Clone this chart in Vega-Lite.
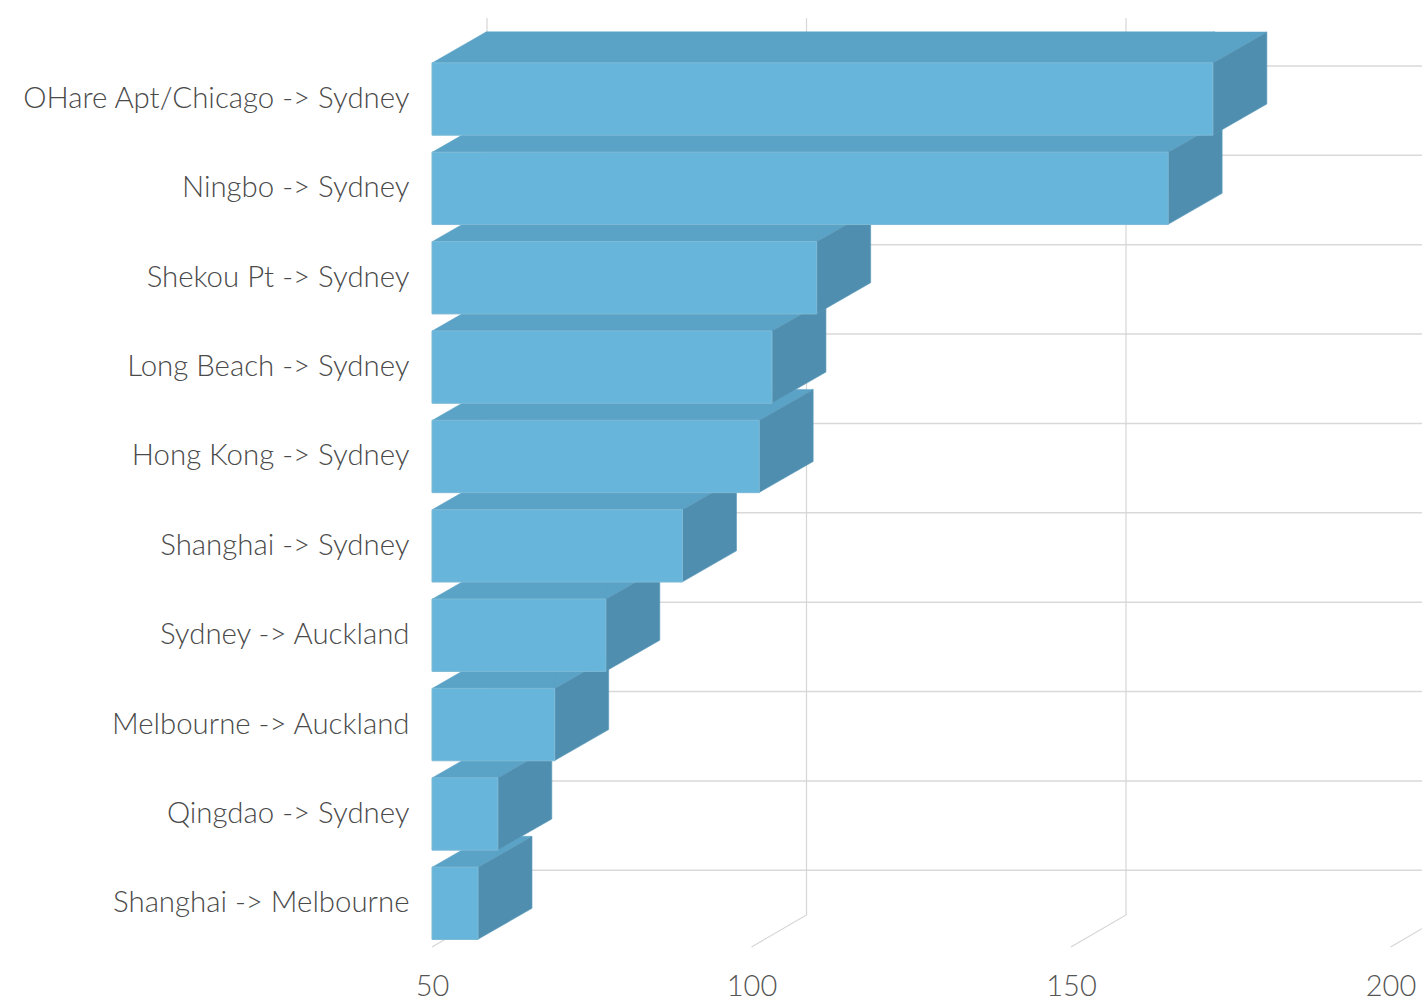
{"$schema":"https://vega.github.io/schema/vega-lite/v6.json","width":1422,"height":997,"padding":0,"autosize":{"type":"none"},"background":"#ffffff","config":{"view":{"stroke":null},"font":"Lato"},
"datasets":{"routes":[
{"route":"Shanghai -> Melbourne","value":57.2,"base":50},
{"route":"Qingdao -> Sydney","value":60.3,"base":50},
{"route":"Melbourne -> Auckland","value":69.2,"base":50},
{"route":"Sydney -> Auckland","value":77.2,"base":50},
{"route":"Shanghai -> Sydney","value":89.2,"base":50},
{"route":"Hong Kong -> Sydney","value":101.2,"base":50},
{"route":"Long Beach -> Sydney","value":103.2,"base":50},
{"route":"Shekou Pt -> Sydney","value":110.2,"base":50},
{"route":"Ningbo -> Sydney","value":165.2,"base":50},
{"route":"OHare Apt/Chicago -> Sydney","value":172.2,"base":50}],
"ticks":[{"tick":50},{"tick":100},{"tick":150},{"tick":200}]},
"layer":[
{"data":{"name":"routes"},"mark":{"type":"point","shape":"M55,-33 L1000,-33","size":4,"filled":false,"stroke":"#d9d9d9","strokeWidth":1.5,"opacity":1},"encoding":{"x":{"field":"base","type":"quantitative","scale":{"domain":[-17.606,204.93],"nice":false,"zero":false},"axis":{"orient":"bottom","offset":-25,"values":[50,100,150,200],"title":null,"domain":false,"ticks":false,"grid":false,"labelPadding":0,"labelBaseline":"top","labelFont":"Lato","labelFontWeight":300,"labelFontSize":29,"labelColor":"#555555","labelOverlap":false,"labelFlush":false}},"y":{"field":"route","type":"nominal","scale":{"domain":["OHare Apt/Chicago -> Sydney","Ningbo -> Sydney","Shekou Pt -> Sydney","Long Beach -> Sydney","Hong Kong -> Sydney","Shanghai -> Sydney","Sydney -> Auckland","Melbourne -> Auckland","Qingdao -> Sydney","Shanghai -> Melbourne"],"range":[54.3,948],"paddingInner":0.19,"paddingOuter":0.095},"axis":{"orient":"left","offset":-409,"title":null,"domain":false,"ticks":false,"grid":false,"labelPadding":0,"labelOffset":0,"labelFont":"Lato","labelFontWeight":300,"labelFontSize":29.4,"labelColor":"#4a4a4a","labelLimit":500}}}},
{"data":{"name":"ticks"},"mark":{"type":"point","shape":"M0,448.5 L55,416.5 L55,-480.5","size":4,"filled":false,"stroke":"#d6d6d6","strokeWidth":1.2,"opacity":1},"encoding":{"x":{"field":"tick","type":"quantitative"}}},
{"data":{"name":"routes"},"transform":[{"filter":"datum.value >= 58"}],"mark":{"type":"bar","height":31,"yOffset":-51.5,"xOffset":54,"x2Offset":2,"fill":"#5ba3c6","stroke":"#5ba3c6","strokeWidth":1},"encoding":{"x":{"field":"base","type":"quantitative"},"x2":{"field":"value"},"y":{"field":"route","type":"nominal"}}},
{"data":{"name":"routes"},"transform":[{"filter":"datum.value >= 58"}],"mark":{"type":"point","shape":"M0,-36 L54,-67 L54,-36 Z","size":4,"filled":true,"fill":"#5ba3c6","stroke":"#5ba3c6","strokeWidth":0.5,"opacity":1},"encoding":{"x":{"field":"base","type":"quantitative"},"y":{"field":"route","type":"nominal"}}},
{"data":{"name":"routes"},"transform":[{"filter":"datum.value >= 58"}],"mark":{"type":"point","shape":"M0,-36 L0,-67 L54,-67 Z","size":4,"filled":true,"fill":"#5ba3c6","stroke":"#5ba3c6","strokeWidth":0.5,"opacity":1},"encoding":{"x":{"field":"value","type":"quantitative"},"y":{"field":"route","type":"nominal"}}},
{"data":{"name":"routes"},"transform":[{"filter":"datum.value < 58"}],"mark":{"type":"point","shape":"M0,-36 L54,-67 L100,-67 L46,-36 Z","size":4,"filled":true,"fill":"#5ba3c6","stroke":"#5ba3c6","strokeWidth":0.5,"opacity":1},"encoding":{"x":{"field":"base","type":"quantitative"},"y":{"field":"route","type":"nominal"}}},
{"data":{"name":"routes"},"mark":{"type":"point","shape":"M0,-36 L54,-67 L54,5 L0,36 Z","size":4,"filled":true,"fill":"#508eb0","stroke":"#5a9aba","strokeWidth":0.6,"opacity":1},"encoding":{"x":{"field":"value","type":"quantitative"},"y":{"field":"route","type":"nominal"}}},
{"data":{"name":"routes"},"mark":{"type":"bar","fill":"#67b5db","stroke":"#7dbad6","strokeWidth":1},"encoding":{"x":{"field":"base","type":"quantitative"},"x2":{"field":"value"},"y":{"field":"route","type":"nominal"}}}
]}
